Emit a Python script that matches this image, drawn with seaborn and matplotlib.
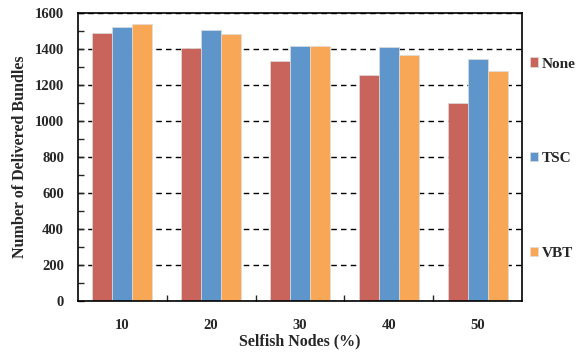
import numpy as np
import pandas as pd
import matplotlib.pyplot as plt
import seaborn as sns
from matplotlib.ticker import MultipleLocator, FixedLocator

# data
nodes = ["10", "20", "30", "40", "50"]
none_vals = [1487, 1406, 1332, 1256, 1100]
tsc_vals = [1524, 1506, 1418, 1411, 1343]
vbt_vals = [1537, 1482, 1418, 1368, 1276]
methods = ["None", "TSC", "VBT"]
colors = ["#C8645C", "#5E95CA", "#F8A757"]

DF = pd.DataFrame({
    "Selfish Nodes (%)": nodes * 3,
    "value": none_vals + tsc_vals + vbt_vals,
    "method": [m for m in methods for _ in nodes],
})

sns.set_style("white")
plt.rcParams["font.family"] = ["Liberation Serif", "DejaVu Serif"]
plt.rcParams["font.weight"] = "bold"

fig = plt.figure(figsize=(5.76, 3.54), dpi=100)
ax = fig.add_axes([0.1354, 0.1497, 0.7708, 0.8136])

sns.barplot(data=DF, x="Selfish Nodes (%)", y="value", hue="method",
            palette=colors, saturation=1, width=0.675, gap=0,
            edgecolor="#dddddd", linewidth=0.5, ax=ax)

ax.set_ylim(0, 1600)
ax.set_xlim(-0.5, 4.5)
ax.yaxis.set_major_locator(MultipleLocator(200))
ax.yaxis.set_minor_locator(MultipleLocator(100))
ax.xaxis.set_minor_locator(FixedLocator([0.5, 1.5, 2.5, 3.5]))
ax.tick_params(axis="y", which="both", direction="in", length=4, width=1,
               labelsize=10.5, pad=10, left=True)
ax.tick_params(axis="x", which="major", length=0, labelsize=10.5, pad=13)
ax.tick_params(axis="x", which="minor", direction="in", length=4, width=1, bottom=True)
for lab in ax.get_xticklabels() + ax.get_yticklabels():
    lab.set_fontweight("bold")

ax.grid(axis="y", which="major", color="black", linestyle=(0, (4, 3)), linewidth=1)
ax.set_axisbelow(True)
for s in ax.spines.values():
    s.set_color("black")
    s.set_linewidth(1.2)

ax.set_xlabel("Selfish Nodes (%)", fontsize=11.5, fontweight="bold", labelpad=1)
ax.set_ylabel("Number of Delivered Bundles", fontsize=11.5, fontweight="bold", labelpad=5)

ax.legend(loc="upper left", bbox_to_anchor=(1.0, 0.872), frameon=False,
          labelspacing=5.35, handlelength=0.55, handleheight=0.55,
          handletextpad=0.25, borderaxespad=0.0, borderpad=0.5,
          prop={"weight": "bold", "size": 11})

plt.savefig("out.png", dpi=100)
